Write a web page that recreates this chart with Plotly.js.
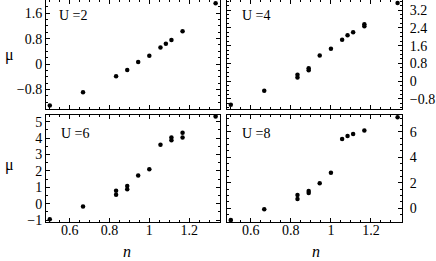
<!DOCTYPE html>
<html>
<head>
<meta charset="utf-8">
<script src="https://cdn.plot.ly/plotly-3.0.1.min.js"></script>
<style>
  html, body { margin: 0; padding: 0; background: #fff; }
  #chart { width: 436px; height: 261px; }
</style>
</head>
<body>
<div id="chart"></div>
<script>
// filling n for each panel
const nU2 = [0.5, 0.667, 0.833, 0.889, 0.944, 1.0, 1.056, 1.083, 1.111, 1.167, 1.333];
const muU2 = [-1.31, -0.89, -0.39, -0.19, 0.06, 0.26, 0.52, 0.64, 0.76, 1.03, 1.92];

const nU4 = [0.5, 0.667, 0.833, 0.833, 0.889, 0.889, 0.944, 1.0, 1.056, 1.083, 1.111, 1.167, 1.167, 1.333];
const muU4 = [-1.06, -0.43, 0.29, 0.17, 0.58, 0.49, 1.16, 1.46, 1.86, 2.07, 2.2, 2.56, 2.47, 3.52];

const nU6 = [0.5, 0.667, 0.833, 0.833, 0.889, 0.889, 0.944, 1.0, 1.056, 1.111, 1.111, 1.167, 1.167, 1.333];
const muU6 = [-0.95, -0.17, 0.78, 0.54, 1.08, 0.88, 1.72, 2.1, 3.59, 4.04, 3.87, 4.32, 4.04, 5.32];

const nU8 = [0.5, 0.667, 0.833, 0.833, 0.889, 0.889, 0.944, 1.0, 1.056, 1.083, 1.111, 1.167, 1.333];
const muU8 = [-0.92, -0.08, 1.04, 0.73, 1.35, 1.2, 1.96, 2.79, 5.43, 5.66, 5.82, 6.1, 7.13];

const panelLabels = ["U =2", "U =4", "U =6", "U =8"];

const font = {family: "Times New Roman", size: 14, color: "#000"};

const dots = (x, y, xa, ya) => ({
    x: x, y: y, xaxis: xa, yaxis: ya,
    type: "scatter", mode: "markers",
    marker: {color: "#000", size: 4.5},
    hoverinfo: "skip", showlegend: false
});

const data = [
    dots(nU2, muU2, "x", "y"),
    dots(nU4, muU4, "x2", "y2"),
    dots(nU6, muU6, "x3", "y3"),
    dots(nU8, muU8, "x4", "y4")
];

// shared frame style
const frame = {
    showline: true, linecolor: "#000", linewidth: 1, mirror: "ticks",
    ticks: "inside", ticklen: 4, tickcolor: "#000", tickwidth: 1,
    showgrid: false, zeroline: false, fixedrange: true,
    tickfont: font
};

const xAxis = (dom, anchor, labels) => Object.assign({}, frame, {
    domain: dom, anchor: anchor, range: [0.481, 1.355],
    tickvals: [0.6, 0.8, 1, 1.2], ticktext: ["0.6", "0.8", "1", "1.2"],
    showticklabels: labels, ticklabelstandoff: -5,
    minor: {ticks: "inside", ticklen: 2, tickcolor: "#000", dtick: 0.05, tick0: 0}
});

const yAxis = (dom, anchor, side, range, vals, minorStep) => Object.assign({}, frame, {
    domain: dom, anchor: anchor, side: side, range: range,
    ticklabelstandoff: side === "right" ? 4 : 0,
    tickvals: vals, ticktext: vals.map(v => v < 0 ? "\u2212" + Math.abs(v) : String(v)),
    minor: {ticks: "inside", ticklen: 2, tickcolor: "#000", dtick: minorStep, tick0: 0}
});

const colL = [46 / 436, 220 / 436];
const colR = [227 / 436, 402 / 436];
const rowT = [1 - 109 / 261, 1];
const rowB = [1 - 222 / 261, 1 - 115 / 261];

const layout = {
    width: 436, height: 261,
    margin: {l: 0, r: 0, t: 0, b: 0},
    paper_bgcolor: "#fff", plot_bgcolor: "#fff",
    font: font,
    xaxis: xAxis(colL, "y", false),
    xaxis2: xAxis(colR, "y2", false),
    xaxis3: xAxis(colL, "y3", true),
    xaxis4: xAxis(colR, "y4", true),
    yaxis: yAxis(rowT, "x", "left", [-1.42, 2.02], [-0.8, 0, 0.8, 1.6], 0.2),
    yaxis2: yAxis(rowT, "x2", "right", [-1.25, 3.65], [-0.8, 0, 0.8, 1.6, 2.4, 3.2], 0.2),
    yaxis3: yAxis(rowB, "x3", "left", [-1.12, 5.41], [-1, 0, 1, 2, 3, 4, 5], 0.5),
    yaxis4: yAxis(rowB, "x4", "right", [-1.07, 7.31], [0, 2, 4, 6], 0.5),
    annotations: [
        {text: panelLabels[0], x: 57 / 436, y: 1 - 16 / 261},
        {text: panelLabels[1], x: 240 / 436, y: 1 - 16 / 261},
        {text: panelLabels[2], x: 59 / 436, y: 1 - 133 / 261},
        {text: panelLabels[3], x: 240 / 436, y: 1 - 133 / 261},
        {text: "\u03bc", x: 3 / 436, y: 1 - 55 / 261, font: Object.assign({}, font, {size: 16})},
        {text: "\u03bc", x: 3 / 436, y: 1 - 165 / 261, font: Object.assign({}, font, {size: 16})},
        {text: "<i>n</i>", x: 127 / 436, y: 1 - 251 / 261, xanchor: "center", font: Object.assign({}, font, {size: 16})},
        {text: "<i>n</i>", x: 316 / 436, y: 1 - 251 / 261, xanchor: "center", font: Object.assign({}, font, {size: 16})}
    ].map(a => Object.assign({xref: "paper", yref: "paper", showarrow: false,
        xanchor: "left", yanchor: "middle", font: font}, a))
};

Plotly.newPlot("chart", data, layout, {staticPlot: true, displayModeBar: false});
</script>
</body>
</html>
